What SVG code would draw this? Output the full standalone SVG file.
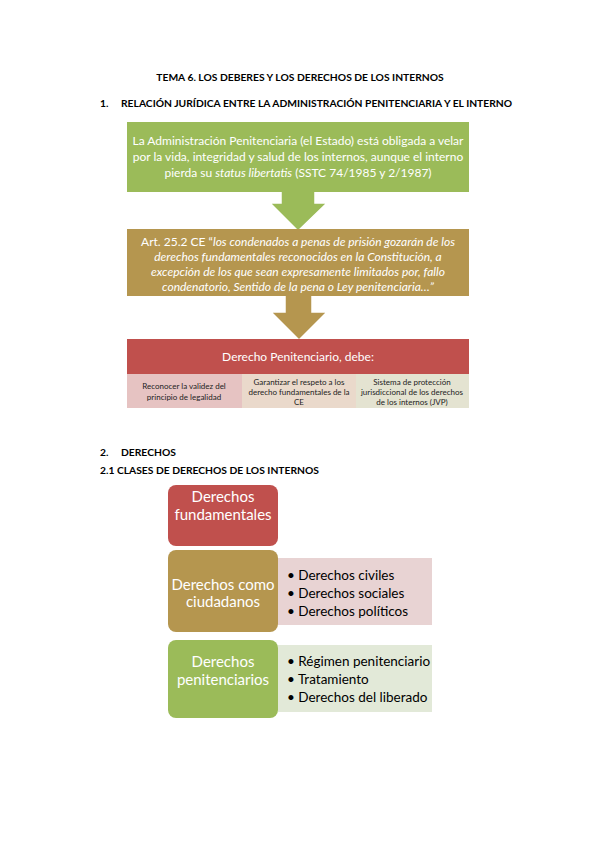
<svg xmlns="http://www.w3.org/2000/svg" width="599" height="848" viewBox="0 0 599 848">
<style>
text{font-family:Lato,"Open Sans","Liberation Sans",sans-serif}
.h{font-weight:bold;font-size:10.3px;fill:#000}
.w{fill:#fff;font-size:12px;text-anchor:middle}
.s{fill:#222;font-size:8px;text-anchor:middle}
.b{fill:#000;font-size:13.5px}
.n{fill:#fff;font-size:15px;text-anchor:middle}
</style>
<rect width="599" height="848" fill="#fff"/>
<text class="h" x="300" y="81" text-anchor="middle">TEMA 6. LOS DEBERES Y LOS DERECHOS DE LOS INTERNOS</text>
<text class="h" x="100" y="107">1.</text>
<text class="h" x="121" y="107">RELACIÓN JURÍDICA ENTRE LA ADMINISTRACIÓN PENITENCIARIA Y EL INTERNO</text>

<g id="connectors">
<polygon points="281,190 315,190 315,203 327,203 298,231 270,203 281,203" fill="#9bbb59" stroke="#fff" stroke-width="1.5"/>
<polygon points="285,294 312,294 312,312 327,312 299,340 271,312 285,312" fill="#b5964f" stroke="#fff" stroke-width="1.5"/>
</g>

<g id="n1">
<rect x="127" y="122" width="342" height="70" fill="#9bbb59"/>
<text class="w" x="298" y="145">La Administración Penitenciaria (el Estado) está obligada a velar</text>
<text class="w" x="298" y="161">por la vida, integridad y salud de los internos, aunque el interno</text>
<text class="w" x="298" y="177">pierda su <tspan font-style="italic">status libertatis</tspan> (SSTC 74/1985 y 2/1987)</text>
</g>

<g id="n2">
<rect x="127" y="229" width="342" height="67" fill="#b5964f"/>
<text class="w" x="298" y="246">Art. 25.2 CE “<tspan font-style="italic">los condenados a penas de prisión gozarán de los</tspan></text>
<text class="w" x="298" y="261" font-style="italic">derechos fundamentales reconocidos en la Constitución, a</text>
<text class="w" x="298" y="276" font-style="italic">excepción de los que sean expresamente limitados por, fallo</text>
<text class="w" x="298" y="291" font-style="italic">condenatorio, Sentido de la pena o Ley penitenciaria…”</text>
</g>

<g id="n3">
<rect x="127" y="339" width="342" height="35" fill="#c0504d"/>
<text class="w" x="298" y="361" font-size="13px">Derecho Penitenciario, debe:</text>
</g>
<g id="n3a">
<rect x="127" y="374" width="115" height="34" fill="#e6c3c2"/>
<text class="s" x="184" y="389">Reconocer la validez del</text>
<text class="s" x="184" y="400">principio de legalidad</text>
</g>
<g id="n3b">
<rect x="242" y="374" width="114" height="34" fill="#ead9cb"/>
<text class="s" x="299" y="385">Garantizar el respeto a los</text>
<text class="s" x="299" y="395">derecho fundamentales de la</text>
<text class="s" x="299" y="405">CE</text>
</g>
<g id="n3c">
<rect x="356" y="374" width="113" height="34" fill="#e4e3d1"/>
<text class="s" x="412" y="385">Sistema de protección</text>
<text class="s" x="412" y="395">jurisdiccional de los derechos</text>
<text class="s" x="412" y="405">de los internos (JVP)</text>
</g>

<text class="h" x="100" y="456">2.</text>
<text class="h" x="121" y="456">DERECHOS</text>
<text class="h" x="100" y="474">2.1 CLASES DE DERECHOS DE LOS INTERNOS</text>

<g id="d1">
<rect x="168" y="485" width="110" height="61" rx="8" fill="#c0504d"/>
<text class="n" x="223" y="502">Derechos</text>
<text class="n" x="223" y="520">fundamentales</text>
</g>

<g id="d2list">
<rect x="278" y="558" width="154" height="67" fill="#e8d3d3"/>
<text class="b" x="287" y="580">• Derechos civiles</text>
<text class="b" x="287" y="598">• Derechos sociales</text>
<text class="b" x="287" y="616">• Derechos políticos</text>
</g>
<g id="d2">
<rect x="168" y="550" width="110" height="82" rx="8" fill="#b5964f"/>
<text class="n" x="223" y="590">Derechos como</text>
<text class="n" x="223" y="607">ciudadanos</text>
</g>

<g id="d3list">
<rect x="278" y="645" width="154" height="67" fill="#e2e9d8"/>
<text class="b" x="287" y="666">• Régimen penitenciario</text>
<text class="b" x="287" y="684">• Tratamiento</text>
<text class="b" x="287" y="702">• Derechos del liberado</text>
</g>
<g id="d3">
<rect x="168" y="640" width="110" height="78" rx="8" fill="#9bbb59"/>
<text class="n" x="223" y="667">Derechos</text>
<text class="n" x="223" y="685">penitenciarios</text>
</g>
</svg>
